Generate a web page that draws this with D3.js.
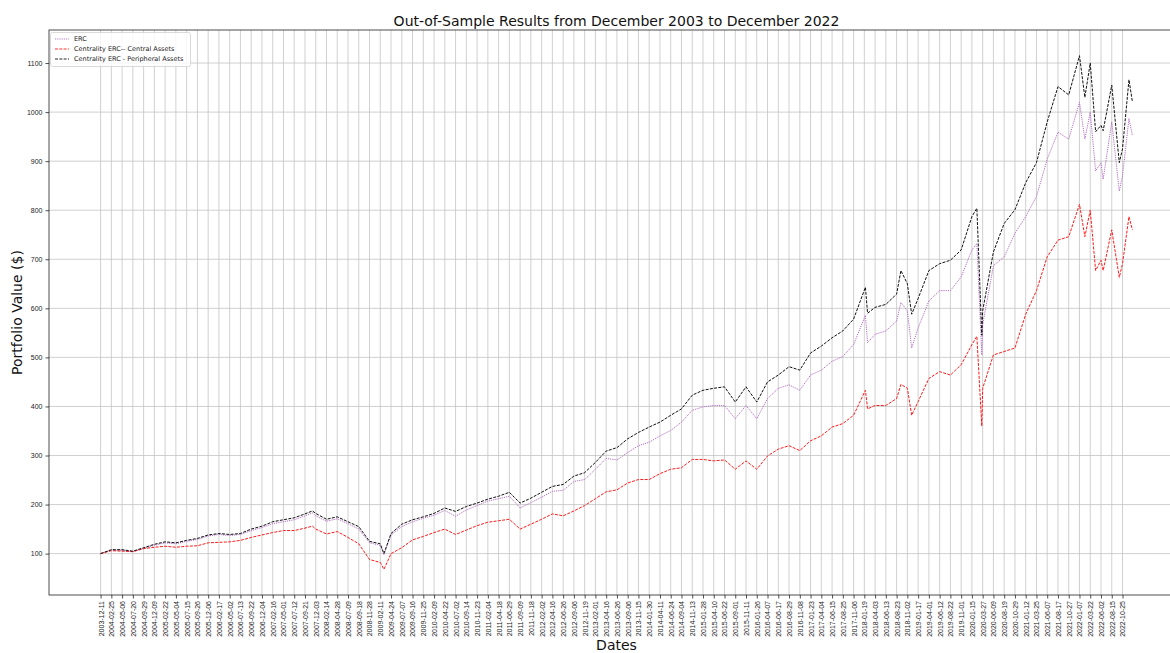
<!DOCTYPE html>
<html><head><meta charset="utf-8">
<script src="https://cdn.jsdelivr.net/npm/d3@7"></script>
<style>body{margin:0;background:#fff}svg{display:block;font-family:"DejaVu Sans",sans-serif}</style>
</head><body><svg id="c" width="1170" height="653"></svg>
<script>
const tickLabels = ["2003-12-11","2004-02-25","2004-05-06","2004-07-20","2004-09-29","2004-12-09","2005-02-22","2005-05-04","2005-07-15","2005-09-26","2005-12-06","2006-02-17","2006-05-02","2006-07-13","2006-09-22","2006-12-04","2007-02-16","2007-05-01","2007-07-12","2007-09-21","2007-12-03","2008-02-14","2008-04-28","2008-07-09","2008-09-18","2008-11-28","2009-02-11","2009-04-24","2009-07-07","2009-09-16","2009-11-25","2010-02-09","2010-04-22","2010-07-02","2010-09-14","2010-11-23","2011-02-04","2011-04-18","2011-06-29","2011-09-09","2011-11-18","2012-02-02","2012-04-16","2012-06-26","2012-09-06","2012-11-19","2013-02-01","2013-04-16","2013-06-26","2013-09-06","2013-11-15","2014-01-30","2014-04-11","2014-06-24","2014-09-04","2014-11-13","2015-01-28","2015-04-10","2015-06-22","2015-09-01","2015-11-11","2016-01-26","2016-04-07","2016-06-17","2016-08-29","2016-11-08","2017-01-23","2017-04-04","2017-06-15","2017-08-25","2017-11-06","2018-01-19","2018-04-03","2018-06-13","2018-08-23","2018-11-02","2019-01-17","2019-04-01","2019-06-12","2019-08-22","2019-11-01","2020-01-15","2020-03-27","2020-06-09","2020-08-19","2020-10-29","2021-01-12","2021-03-25","2021-06-07","2021-08-17","2021-10-27","2022-01-07","2022-03-22","2022-06-02","2022-08-15","2022-10-25"];
const tickStep = 50;          // trading days between date labels
const lastIndex = 4796;       // last trading day (2022-12-30)
const yTicks = [100,200,300,400,500,600,700,800,900,1000,1100];

// trading-day index of each read point
const dayIndex = [0,50,100,150,200,250,300,350,400,450,500,550,600,650,700,750,800,850,900,950,985,1000,1050,1100,1150,1200,1250,1300,1317,1350,1400,1450,1500,1550,1600,1650,1700,1750,1800,1850,1900,1950,2000,2050,2100,2150,2200,2250,2300,2350,2400,2450,2500,2550,2600,2650,2700,2750,2800,2850,2900,2950,3000,3050,3100,3150,3200,3250,3300,3350,3400,3450,3500,3555,3565,3600,3650,3700,3720,3750,3770,3800,3850,3900,3950,4000,4050,4073,4096,4100,4150,4200,4250,4300,4350,4400,4450,4500,4550,4575,4600,4625,4650,4660,4700,4735,4750,4780,4796];
const ercValues = [100,107,107,104,111,117,122,120,125,129,136,139,137,139,147,153,161,165,169,177,183,177,166,171,161,150,122,117,98,138,155,165,172,178,188,176,189,198,207,212,217,193,204,215,227,229,247,251,272,294,291,306,320,327,340,351,368,392,399,402,402,375,402,375,416,437,444,433,464,474,492,502,526,586,530,547,554,574,612,595,519,560,615,636,636,664,719,732,505,567,687,705,753,787,828,904,959,945,1020,945,1000,880,897,863,980,839,870,987,952];
const centralValues = [100,106,105,104,110,113,115,113,115,116,122,123,124,127,133,138,143,147,147,152,156,150,140,145,133,120,88,82,68,100,112,128,135,143,150,139,148,157,164,167,170,150,160,170,181,177,187,198,212,226,230,244,251,251,263,272,275,292,292,289,291,272,289,272,299,313,320,310,330,340,358,365,382,433,395,402,402,416,445,437,382,410,457,471,464,485,526,543,360,437,505,512,519,588,636,705,739,746,812,746,800,677,698,677,760,663,691,787,760];
const peripheralValues = [100,108,108,105,112,119,124,122,127,131,138,141,139,141,150,156,165,169,173,181,187,182,170,175,165,155,125,120,100,141,160,169,175,182,193,186,196,203,211,217,225,203,213,225,237,241,258,265,286,309,316,334,347,358,368,382,395,423,433,437,440,409,440,409,450,464,481,474,509,523,540,554,578,643,590,602,608,629,677,650,588,620,677,691,698,719,787,804,545,595,715,773,801,856,897,980,1052,1035,1115,1030,1100,960,973,962,1055,897,925,1066,1021];

const W = 1170, H = 653;
const m = {left: 49, right: 1184, top: 30, bottom: 595};
const svg = d3.select("#c");

const all = ercValues.concat(centralValues, peripheralValues);
const yMin = d3.min(all), yMax = d3.max(all), yPad = (yMax - yMin) * 0.05;
const x = d3.scaleLinear().domain([-lastIndex * 0.05, lastIndex * 1.05]).range([m.left, m.right]);
const y = d3.scaleLinear().domain([yMin - yPad, yMax + yPad]).range([m.bottom, m.top]);

const tickIdx = tickLabels.map((d, i) => i * tickStep);

// grid
const g = svg.append("g");
g.selectAll("line.vg").data(tickIdx).join("line")
  .attr("x1", d => x(d)).attr("x2", d => x(d)).attr("y1", m.top).attr("y2", m.bottom)
  .attr("stroke", "#c4c4c4").attr("stroke-width", 0.8);
g.selectAll("line.hg").data(yTicks).join("line")
  .attr("x1", m.left).attr("x2", m.right).attr("y1", d => y(d)).attr("y2", d => y(d))
  .attr("stroke", "#c4c4c4").attr("stroke-width", 0.8);

// axes
const xAxis = d3.axisBottom(x).tickValues(tickIdx).tickFormat((d, i) => tickLabels[i]).tickSize(3.5).tickPadding(2);
const yAxis = d3.axisLeft(y).tickValues(yTicks).tickFormat(d3.format("d")).tickSize(3.5).tickPadding(3);
const gx = svg.append("g").attr("transform", `translate(0,${m.bottom})`).call(xAxis);
gx.selectAll("text").attr("transform", "rotate(-90)").attr("text-anchor", "end")
  .attr("x", -6).attr("y", 0).attr("dy", "0.35em").style("font-size", "7px").attr("fill", "#222");
const gy = svg.append("g").attr("transform", `translate(${m.left},0)`).call(yAxis);
gy.selectAll("text").style("font-size", "7px").attr("fill", "#222");
[gx, gy].forEach(a => { a.select(".domain").remove(); a.selectAll("line").attr("stroke", "#222").attr("stroke-width", 0.8); });

// lines
svg.append("clipPath").attr("id", "clip").append("rect")
  .attr("x", m.left).attr("y", m.top).attr("width", m.right - m.left).attr("height", m.bottom - m.top);
const series = [
  {name: "ERC", vals: ercValues, color: "#b46ec4", dash: "1.2,1", w: 1},
  {name: "Centrality ERC-- Central Assets", vals: centralValues, color: "#ff1a1a", dash: "3,1.3", w: 1},
  {name: "Centrality ERC - Peripheral Assets", vals: peripheralValues, color: "#111", dash: "3,1.3", w: 1}
];
const line = d3.line().x(d => x(d[0])).y(d => y(d[1]));
const lg = svg.append("g").attr("clip-path", "url(#clip)");
series.forEach(s => {
  lg.append("path").datum(dayIndex.map((d, i) => [d, s.vals[i]]))
    .attr("d", line).attr("fill", "none").attr("stroke", s.color)
    .attr("stroke-width", s.w).attr("stroke-dasharray", s.dash);
});

// spines
svg.append("rect").attr("x", m.left).attr("y", m.top).attr("width", m.right - m.left).attr("height", m.bottom - m.top)
  .attr("fill", "none").attr("stroke", "#222").attr("stroke-width", 0.8);

// legend
const leg = svg.append("g");
leg.append("rect").attr("x", 50.5).attr("y", 32.5).attr("width", 140).attr("height", 34).attr("rx", 2)
  .attr("fill", "#fff").attr("fill-opacity", 0.8).attr("stroke", "#d0d0d0").attr("stroke-width", 0.8);
series.forEach((s, i) => {
  const yy = 39 + i * 10;
  leg.append("line").attr("x1", 55).attr("x2", 69).attr("y1", yy).attr("y2", yy)
    .attr("stroke", s.color).attr("stroke-width", 0.9).attr("stroke-dasharray", s.dash);
  leg.append("text").attr("x", 74).attr("y", yy).attr("dy", "0.35em").style("font-size", "6.5px").attr("fill", "#222").text(s.name);
});

// titles
svg.append("text").attr("x", (m.left + m.right) / 2).attr("y", 26).attr("text-anchor", "middle")
  .style("font-size", "14px").attr("fill", "#111").text("Out-of-Sample Results from December 2003 to December 2022");
svg.append("text").attr("x", (m.left + m.right) / 2).attr("y", 650).attr("text-anchor", "middle")
  .style("font-size", "14px").attr("fill", "#111").text("Dates");
svg.append("text").attr("transform", `translate(22,${(m.top + m.bottom) / 2}) rotate(-90)`).attr("text-anchor", "middle")
  .style("font-size", "14px").attr("fill", "#111").text("Portfolio Value ($)");
</script></body></html>
